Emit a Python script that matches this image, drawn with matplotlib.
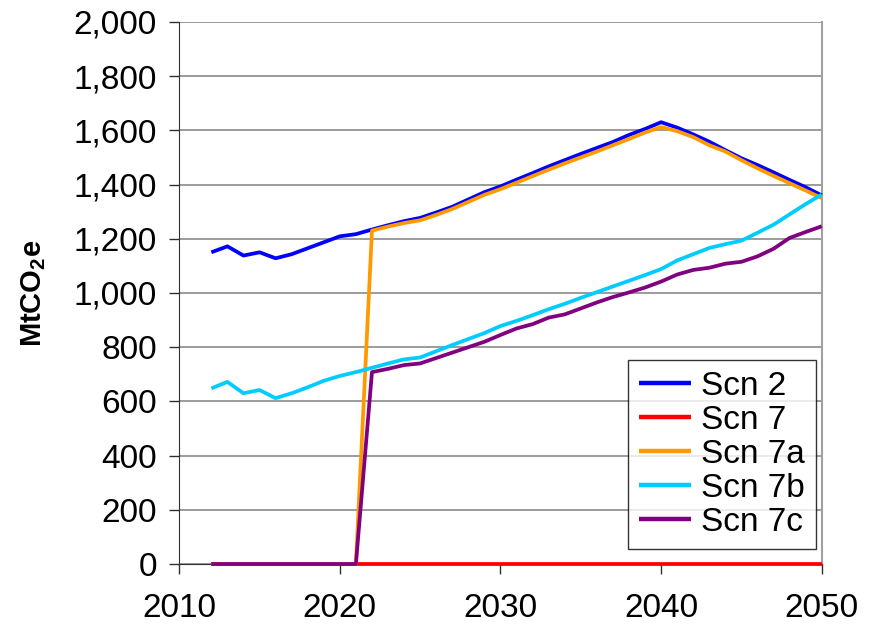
import matplotlib
matplotlib.use("Agg")
import matplotlib.pyplot as plt
from matplotlib.ticker import FuncFormatter

plt.rcParams["font.family"] = ["Liberation Sans", "DejaVu Sans"]
plt.rcParams["mathtext.fontset"] = "custom"
plt.rcParams["mathtext.rm"] = "Liberation Sans"
plt.rcParams["mathtext.bf"] = "Liberation Sans:bold"

years = list(range(2012, 2051))

scn2 = [1150, 1172, 1138, 1150, 1128, 1143, 1165, 1187, 1209, 1217,
        1234, 1250, 1265, 1277, 1297, 1318, 1345, 1372, 1393, 1418,
        1442, 1467, 1490, 1513, 1535, 1557, 1583, 1605, 1630, 1610,
        1585, 1558, 1527, 1497, 1472, 1445, 1417, 1390, 1360]
scn7 = [0] * 39
scn7a = [0, 0, 0, 0, 0, 0, 0, 0, 0, 0,
         1230, 1245, 1258, 1268, 1288, 1310, 1336, 1362, 1383, 1407,
         1431, 1455, 1478, 1500, 1522, 1545, 1568, 1592, 1612, 1597,
         1575, 1545, 1522, 1490, 1460, 1432, 1405, 1378, 1350]
scn7b = [648, 672, 630, 642, 612, 630, 652, 676, 694, 708,
         724, 740, 755, 762, 785, 808, 830, 852, 878, 897,
         918, 940, 960, 982, 1003, 1024, 1045, 1066, 1088, 1120,
         1143, 1166, 1180, 1193, 1222, 1252, 1290, 1328, 1363]
scn7c = [0, 0, 0, 0, 0, 0, 0, 0, 0, 0,
         708, 720, 734, 740, 760, 780, 800, 820, 845, 869,
         885, 909, 921, 943, 965, 985, 1002, 1020, 1042, 1068,
         1085, 1093, 1108, 1115, 1135, 1163, 1203, 1225, 1246]

series = [
    ("Scn 2", scn2, "#0000ff"),
    ("Scn 7", scn7, "#ff0000"),
    ("Scn 7a", scn7a, "#ff9900"),
    ("Scn 7b", scn7b, "#00ccff"),
    ("Scn 7c", scn7c, "#800080"),
]

fig = plt.figure(figsize=(8.7, 6.26), dpi=100)
ax = fig.add_axes([0.206, 0.099, 0.7385, 0.866])

for label, values, color in series:
    ax.plot(years, values, color=color, lw=2.7, label=label, zorder=3,
            solid_joinstyle="round", solid_capstyle="butt", clip_on=False)

ax.set_xlim(2010, 2050)
ax.set_ylim(0, 2000)
ax.set_xticks(range(2010, 2051, 10))
ax.set_yticks(range(0, 2001, 200))
ax.yaxis.set_major_formatter(FuncFormatter(lambda v, p: f"{int(v):,}"))
ax.grid(axis="y", color="#808080", lw=1.1)
ax.set_axisbelow(True)

ax.spines["top"].set_visible(False)
ax.spines["right"].set_color("#a0a0a0")
ax.spines["right"].set_linewidth(1.5)
ax.spines["left"].set_color("#303030")
ax.spines["bottom"].set_color("#303030")
ax.tick_params(axis="both", direction="out", length=7, width=1,
               color="#303030", labelsize=24)
ax.tick_params(axis="x", pad=14)
ax.tick_params(axis="y", pad=9)

ax.set_ylabel(r"MtCO$_\mathbf{2}$e", fontsize=21, fontweight="bold")
ax.yaxis.set_label_coords(-0.204, 0.5)

leg = ax.legend(loc="lower right", bbox_to_anchor=(0.9906, 0.0277),
                borderaxespad=0, fontsize=24, frameon=True, fancybox=False,
                edgecolor="black", handlelength=1.55, handletextpad=0.3,
                labelspacing=0.09, borderpad=0.33)
leg.get_frame().set_linewidth(1.0)
leg.set_zorder(4)
for line in leg.get_lines():
    line.set_linewidth(3.2)

fig.savefig("out.png", dpi=100)
